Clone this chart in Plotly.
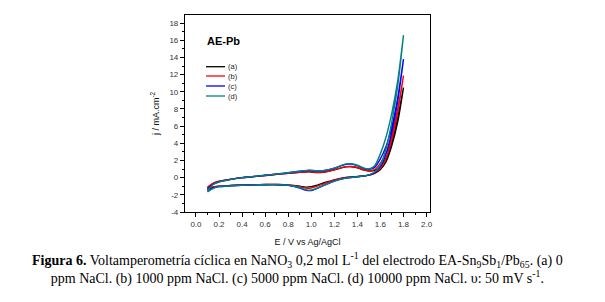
import plotly.graph_objects as go

# ---------------- data ----------------
labels = ["(a)", "(b)", "(c)", "(d)"]
colors = ["#000000", "#ff0000", "#0000ff", "#008080"]

E_fwd = [0.10, 0.15, 0.20, 0.30, 0.40, 0.50, 0.60, 0.70, 0.80, 0.90, 0.98, 1.05, 1.10,
         1.20, 1.30, 1.35, 1.40, 1.45, 1.50, 1.55, 1.60, 1.65, 1.70, 1.75, 1.80]
E_rev = [1.80, 1.75, 1.70, 1.65, 1.60, 1.55, 1.50, 1.40, 1.30, 1.20, 1.10, 1.00, 0.95,
         0.90, 0.80, 0.70, 0.60, 0.50, 0.40, 0.30, 0.20, 0.15, 0.10]

j_fwd_a = [-1.2, -0.70, -0.45, -0.20, 0.00, 0.12, 0.25, 0.38, 0.50, 0.62, 0.68, 0.60, 0.62,
           0.90, 1.25, 1.28, 1.15, 0.92, 0.78, 0.85, 1.30, 2.30, 4.20, 7.00, 10.5]
j_fwd_b = [-1.1, -0.65, -0.42, -0.18, 0.00, 0.12, 0.25, 0.38, 0.50, 0.62, 0.70, 0.62, 0.64,
           0.92, 1.28, 1.30, 1.18, 0.95, 0.80, 0.95, 1.70, 2.90, 5.00, 8.00, 11.9]
j_fwd_c = [-1.4, -0.75, -0.48, -0.20, 0.00, 0.14, 0.28, 0.42, 0.58, 0.74, 0.85, 0.78, 0.80,
           1.10, 1.55, 1.58, 1.40, 1.12, 0.98, 1.20, 2.20, 3.70, 6.00, 9.30, 13.8]
j_fwd_d = [-1.5, -0.78, -0.50, -0.22, 0.00, 0.14, 0.28, 0.42, 0.58, 0.75, 0.88, 0.80, 0.82,
           1.12, 1.60, 1.62, 1.45, 1.15, 1.02, 1.40, 2.80, 4.80, 7.60, 11.3, 16.6]

j_rev_a = [10.5, 6.50, 3.80, 1.90, 0.95, 0.50, 0.30, 0.15, 0.02, -0.25, -0.65, -1.05, -1.10,
           -1.00, -0.85, -0.80, -0.80, -0.82, -0.86, -0.92, -1.00, -1.10, -1.40]
j_rev_b = [11.9, 7.60, 4.50, 2.30, 1.10, 0.55, 0.30, 0.12, 0.00, -0.30, -0.75, -1.20, -1.22,
           -1.05, -0.85, -0.80, -0.80, -0.82, -0.86, -0.92, -1.00, -1.05, -1.30]
j_rev_c = [13.8, 8.90, 5.40, 2.80, 1.30, 0.60, 0.30, 0.10, -0.05, -0.40, -0.95, -1.50, -1.45,
           -1.20, -0.90, -0.82, -0.82, -0.84, -0.88, -0.95, -1.05, -1.20, -1.60]
j_rev_d = [16.6, 10.7, 6.60, 3.40, 1.50, 0.65, 0.32, 0.10, -0.05, -0.40, -0.95, -1.45, -1.40,
           -1.15, -0.88, -0.82, -0.82, -0.84, -0.88, -0.95, -1.05, -1.25, -1.65]

j_fwd = [j_fwd_a, j_fwd_b, j_fwd_c, j_fwd_d]
j_rev = [j_rev_a, j_rev_b, j_rev_c, j_rev_d]

x_ticks = [0.0, 0.2, 0.4, 0.6, 0.8, 1.0, 1.2, 1.4, 1.6, 1.8, 2.0]
y_ticks = [-4, -2, 0, 2, 4, 6, 8, 10, 12, 14, 16, 18]

# ---------------- figure ----------------
fig = go.Figure()
for lab, col, jf, jr in zip(labels, colors, j_fwd, j_rev):
    fig.add_trace(go.Scatter(
        x=E_fwd + E_rev, y=jf + jr, mode="lines", name=lab,
        line=dict(color=col, width=1.4, shape="spline", smoothing=0.8),
        showlegend=False,
    ))

tickfont = dict(family="Liberation Sans, Arial", size=8, color="#333333")
fig.update_xaxes(
    range=[-0.095, 2.03], tickvals=x_ticks, ticktext=[f"{v:.1f}" for v in x_ticks],
    ticks="outside", ticklen=4, tickwidth=1, tickcolor="black",
    minor=dict(ticks="outside", ticklen=2, dtick=0.1, tick0=0, tickcolor="black"),
    showline=True, linecolor="black", linewidth=1.2, mirror=True,
    showgrid=False, zeroline=False, tickfont=tickfont,
    title=dict(text="E / V vs Ag/AgCl", font=dict(family="Liberation Sans, Arial", size=9, color="#111"), standoff=10),
)
fig.update_yaxes(
    range=[-4, 18.95], tickvals=y_ticks, ticktext=[str(v) for v in y_ticks],
    ticks="outside", ticklen=4, tickwidth=1, tickcolor="black",
    minor=dict(ticks="outside", ticklen=2, dtick=1, tick0=0, tickcolor="black"),
    showline=True, linecolor="black", linewidth=1.2, mirror=True,
    showgrid=False, zeroline=False, tickfont=tickfont,
    title=dict(text="j / mA.cm<sup>-2</sup>", font=dict(family="Liberation Sans, Arial", size=9, color="#111"), standoff=8),
)

# panel label
annots = [dict(xref="paper", yref="paper", x=0.08, y=0.87, xanchor="left", yanchor="middle",
               text="<b>AE-Pb</b>", showarrow=False,
               font=dict(family="Liberation Sans, Arial", size=11, color="black"))]
shapes = []
# manual legend
leg_y = [66.7, 76, 86, 96]
for lab, col, yy in zip(labels, colors, leg_y):
    py = (212 - yy) / (212 - 15)
    shapes.append(dict(type="line", xref="paper", yref="paper",
                       x0=(206 - 185) / 245, x1=(225 - 185) / 245, y0=py, y1=py,
                       line=dict(color=col, width=1.3)))
    annots.append(dict(xref="paper", yref="paper", x=(226 - 185) / 245, y=py,
                       xanchor="left", yanchor="middle", text=lab, showarrow=False,
                       font=dict(family="Liberation Sans, Arial", size=7.5, color="#222")))

caption = ("<b>Figura 6.</b> Voltamperometría cíclica en NaNO<sub>3</sub> 0,2 mol L<sup>-1</sup> "
           "del electrodo EA-Sn<sub>9</sub>Sb<sub>1</sub>/Pb<sub>65</sub>. (a) 0<br>"
           "ppm NaCl. (b) 1000 ppm NaCl. (c) 5000 ppm NaCl. (d) 10000 ppm NaCl. υ: 50 mV s<sup>-1</sup>.")
annots.append(dict(xref="paper", yref="paper", x=(297 - 185) / 245, y=(212 - 268) / 197,
                   xanchor="center", yanchor="middle", text=caption, showarrow=False,
                   align="center",
                   font=dict(family="Liberation Serif, Times New Roman", size=14, color="black")))

fig.update_layout(
    width=605, height=302,
    margin=dict(l=185, r=175, t=15, b=90),
    paper_bgcolor="white", plot_bgcolor="white",
    annotations=annots, shapes=shapes,
)

fig.write_html("out.html", config={"displayModeBar": False},
               post_script="document.body.style.margin='0';document.body.style.overflow='hidden';")
